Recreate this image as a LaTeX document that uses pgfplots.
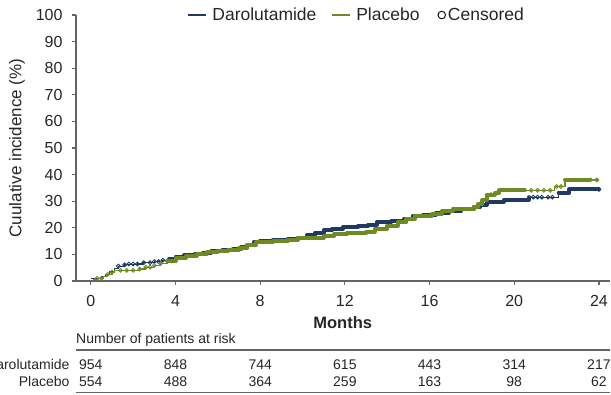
\documentclass[border=0pt]{standalone}
\usepackage{fontspec}
\setmainfont{Liberation Sans}
\usepackage{pgfplots}
\usepackage{pgfplotstable}
\pgfplotsset{compat=1.18}
\definecolor{daro}{RGB}{31,56,100}
\definecolor{plac}{RGB}{112,138,35}
\definecolor{axgray}{RGB}{100,100,100}
\definecolor{txt}{RGB}{38,38,38}

\pgfplotstableread{
t v
0 1.0
0.5 1.8
0.7 2.5
0.9 3.6
1.1 4.8
1.3 5.6
1.6 6.1
2.2 6.4
2.5 6.9
3.0 7.3
3.4 7.8
3.7 8.4
4.0 9.1
4.4 9.6
4.9 10.1
5.3 10.7
5.7 11.2
6.2 11.6
6.7 12.0
7.1 12.7
7.4 13.6
7.7 14.7
8.0 15.2
8.6 15.5
9.3 15.8
9.8 16.3
10.2 17.2
10.6 18.2
11.0 19.0
11.4 19.6
11.9 20.2
12.6 20.6
13.1 21.2
13.5 22.0
14.2 22.5
14.8 23.4
15.2 24.4
15.7 25.0
16.3 25.7
16.9 26.4
17.5 27.2
18.1 27.9
18.4 28.6
18.7 29.8
19.5 30.3
20.0 30.6
20.7 31.5
22.1 33.2
22.6 34.4
24.0 34.4
}\darotab

\pgfplotstableread{
t v
0.1 0.6
0.3 1.0
0.6 1.8
0.8 2.5
1.0 3.3
1.1 4.0
2.3 4.5
2.6 5.2
3.0 5.8
3.3 6.6
3.6 7.6
4.0 8.6
4.5 9.5
5.0 10.3
5.5 11.0
6.0 11.4
6.5 11.8
7.0 12.5
7.4 13.4
7.8 14.6
8.6 15.0
9.3 15.6
9.8 16.0
10.3 16.3
11.0 17.0
11.5 17.6
12.1 18.0
13.0 18.5
13.4 19.7
14.0 20.8
14.5 22.0
14.9 23.4
15.3 24.6
16.1 25.2
16.6 26.5
17.1 27.2
18.1 27.8
18.3 28.8
18.5 30.5
18.7 32.5
19.1 33.2
19.3 34.1
20.5 34.1
21.9 35.5
22.4 38.0
23.5 38.0
24.0 38.0
}\plactab

\pgfplotstableread{
t v
1.3 5.6
1.6 6.1
1.8 6.4
2.0 6.4
2.2 6.4
2.5 6.9
2.8 6.9
3.0 7.3
3.2 7.3
3.4 7.8
20.9 31.5
21.1 31.5
21.3 31.5
21.6 31.5
21.8 31.5
24.0 34.4
}\darocens

\pgfplotstableread{
t v
0.3 1.0
0.5 1.0
0.8 2.5
1.0 3.3
1.4 4.0
1.7 4.0
2.0 4.0
2.3 4.5
2.6 5.2
2.8 5.2
3.0 5.8
3.3 6.6
18.9 32.5
20.8 34.1
21.1 34.1
21.4 34.1
21.7 34.1
22.0 35.5
22.2 35.5
23.6 38.0
23.9 38.0
}\placcens

\newcommand{\tabfont}{\fontsize{14}{16}\selectfont}

\begin{document}
\begin{tikzpicture}
\begin{axis}[
  at={(0,0)}, anchor=south west,
  scale only axis, width=533.5pt, height=266pt,
  xmin=-0.7, xmax=24.5, ymin=0, ymax=100,
  axis lines*=left,
  axis line style={axgray, line width=1.4pt},
  xtick={0,4,...,24}, ytick={0,10,...,100},
  tick align=outside, major tick length=4pt,
  tick style={axgray, line width=1.2pt},
  ticklabel style={font=\fontsize{16}{19}\selectfont, text=txt},
  xticklabel style={yshift=-7pt},
  yticklabel style={xshift=-6pt},
  /pgf/number format/assume math mode=true,
  xlabel={\bfseries Months},
  xlabel style={font=\fontsize{16.5}{19}\selectfont, text=txt, at={(axis description cs:0.5,-0.158)}, anchor=center},
  ylabel={Cuulative incidence (\%)},
  ylabel style={font=\fontsize{17}{20}\selectfont, text=txt, at={(axis description cs:-0.1106,0.5)}, anchor=center},
  clip=false,
  legend style={at={(0.528,1)}, anchor=center, draw=none, fill=none,
    font=\fontsize{17.5}{20}\selectfont, text=txt, inner sep=0pt,
    nodes={inner xsep=4pt, inner ysep=0pt},
    /tikz/every even column/.append style={column sep=11pt}},
  legend columns=3,
  legend cell align=left,
  legend image code/.code={\path (0pt,0pt) (20pt,0pt); \draw[#1, line width=1.3pt] (0pt,0pt) -- (18pt,0pt);},
]
\addlegendimage{daro}
\addlegendentry{Darolutamide}
\addlegendimage{plac}
\addlegendentry{Placebo}
\addlegendimage{legend image code/.code={\path (0pt,0pt) (9pt,0pt); \draw[overlay, black, line width=0.9pt] (7pt,0pt) circle (3.8pt);}}
\addlegendentry{Censored}

% Darolutamide
\addplot[const plot, daro, line width=1.2pt, forget plot] table[x=t,y=v] {\darotab};
\addplot[const plot, daro, line width=4pt, line join=round, line cap=round, forget plot, restrict x to domain=3.6:20.8] table[x=t,y=v] {\darotab};
\addplot[const plot, daro, line width=4pt, line join=round, line cap=round, forget plot, restrict x to domain=22.0:24.0] table[x=t,y=v] {\darotab};
\addplot[only marks, mark=o, mark size=1.9pt, daro, mark options={line width=0.9pt}, forget plot] table[x=t,y=v] {\darocens};

% Placebo
\addplot[const plot, plac, line width=1.2pt, forget plot] table[x=t,y=v] {\plactab};
\addplot[const plot, plac, line width=4pt, line join=round, line cap=round, forget plot, restrict x to domain=3.4:20.6] table[x=t,y=v] {\plactab};
\addplot[const plot, plac, line width=4pt, line join=round, line cap=round, forget plot, restrict x to domain=22.4:23.5] table[x=t,y=v] {\plactab};
\addplot[only marks, mark=o, mark size=1.9pt, plac, mark options={line width=0.9pt}, forget plot] table[x=t,y=v] {\placcens};

% Risk table
\node[anchor=west, font=\tabfont, text=txt, inner sep=0pt] at (axis cs:-0.7,-22.2) {Number of patients at risk};
\draw[axgray, line width=1.5pt] (axis cs:-0.7,-25.9) -- (axis cs:24.5,-25.9);
\draw[axgray, line width=1.5pt] (axis cs:-0.7,-41.9) -- (axis cs:24.5,-41.9);
\node[anchor=east, font=\tabfont, text=txt, inner sep=0pt] at (axis cs:-1.0,-31.3) {Darolutamide};
\node[anchor=east, font=\tabfont, text=txt, inner sep=0pt] at (axis cs:-1.0,-37.9) {Placebo};
\node[font=\tabfont, text=txt, inner sep=0pt] at (axis cs:0,-31.3) {954};
\node[font=\tabfont, text=txt, inner sep=0pt] at (axis cs:4,-31.3) {848};
\node[font=\tabfont, text=txt, inner sep=0pt] at (axis cs:8,-31.3) {744};
\node[font=\tabfont, text=txt, inner sep=0pt] at (axis cs:12,-31.3) {615};
\node[font=\tabfont, text=txt, inner sep=0pt] at (axis cs:16,-31.3) {443};
\node[font=\tabfont, text=txt, inner sep=0pt] at (axis cs:20,-31.3) {314};
\node[font=\tabfont, text=txt, inner sep=0pt] at (axis cs:24,-31.3) {217};
\node[font=\tabfont, text=txt, inner sep=0pt] at (axis cs:0,-37.9) {554};
\node[font=\tabfont, text=txt, inner sep=0pt] at (axis cs:4,-37.9) {488};
\node[font=\tabfont, text=txt, inner sep=0pt] at (axis cs:8,-37.9) {364};
\node[font=\tabfont, text=txt, inner sep=0pt] at (axis cs:12,-37.9) {259};
\node[font=\tabfont, text=txt, inner sep=0pt] at (axis cs:16,-37.9) {163};
\node[font=\tabfont, text=txt, inner sep=0pt] at (axis cs:20,-37.9) {98};
\node[font=\tabfont, text=txt, inner sep=0pt] at (axis cs:24,-37.9) {62};
\end{axis}
\pgfresetboundingbox
\path[use as bounding box] (-76pt,-113pt) rectangle (535pt,281pt);
\end{tikzpicture}
\end{document}
